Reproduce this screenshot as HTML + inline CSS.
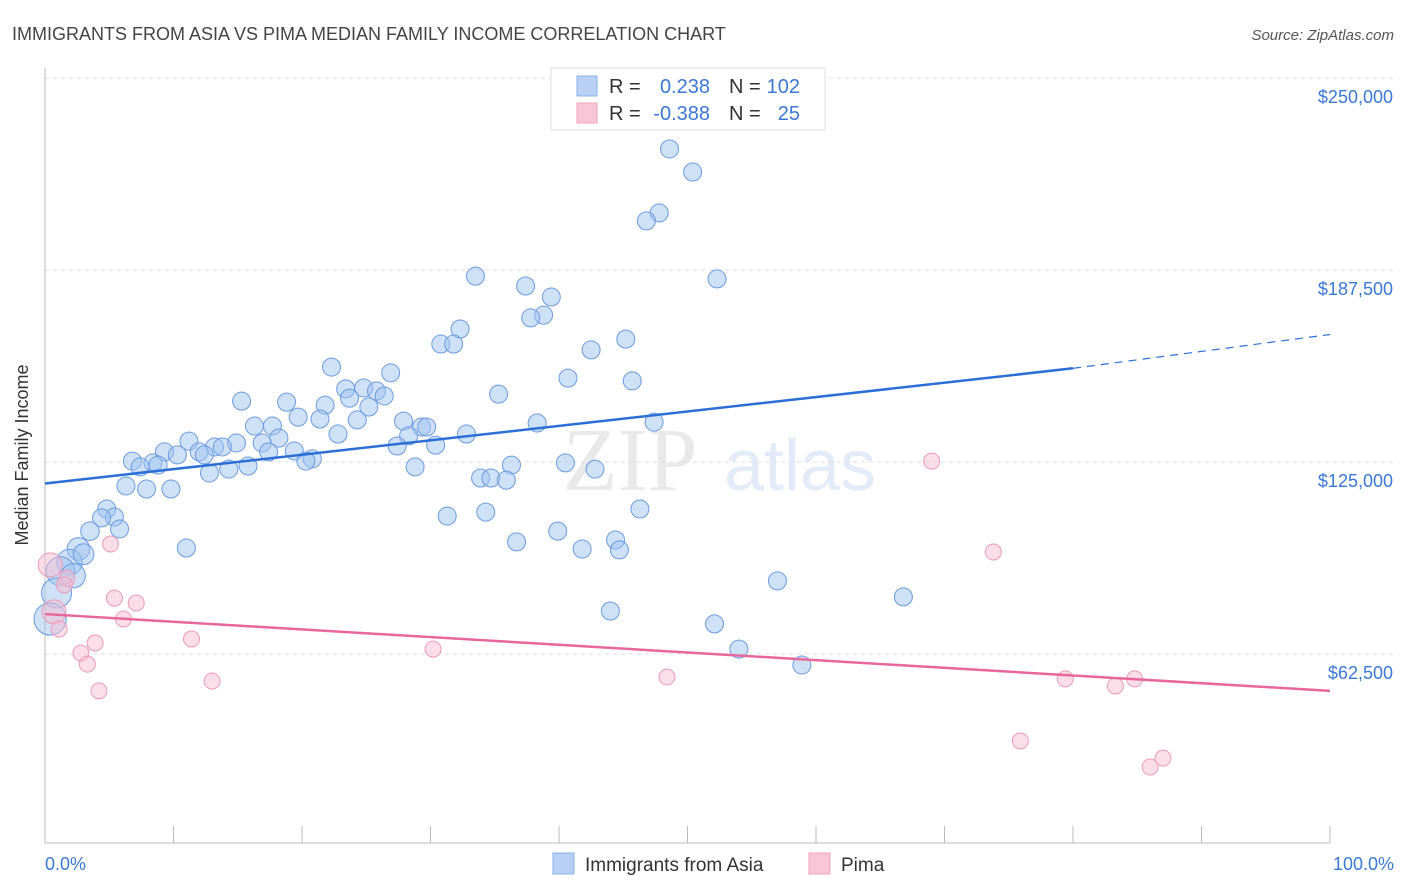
<!DOCTYPE html>
<html><head><meta charset="utf-8">
<style>
body{margin:0;background:#fff;font-family:"Liberation Sans",sans-serif;}
svg{display:block}
</style></head>
<body>
<svg id="chart" width="1406" height="892" xmlns="http://www.w3.org/2000/svg">
<text x="12" y="40" font-size="18" fill="#444">IMMIGRANTS FROM ASIA VS PIMA MEDIAN FAMILY INCOME CORRELATION CHART</text>
<text x="1394" y="40" font-size="15" fill="#555" font-style="italic" text-anchor="end">Source: ZipAtlas.com</text>
<g opacity="0.25">
<text x="630" y="490" font-size="90" font-family="Liberation Serif,serif" fill="#aaa" text-anchor="middle">ZIP</text>
<text x="800" y="490" font-size="72" fill="#8fb3e0" text-anchor="middle">atlas</text>
</g>
<g id="grid"></g>
<g id="axes"></g>
<g id="marks"></g>
<g>
<rect x="551" y="68" width="274" height="62" fill="#fff" stroke="#ddd"/>
<rect x="577" y="76" width="20" height="20" fill="#b8d0f3" stroke="#8bb0e6"/>
<rect x="577" y="103" width="20" height="20" fill="#f8c6d6" stroke="#efa3bd"/>
<text x="609" y="93" font-size="20" fill="#333">R =</text>
<text x="710" y="93" font-size="20" fill="#3a78d4" text-anchor="end">0.238</text>
<text x="729" y="93" font-size="20" fill="#333">N =</text>
<text x="800" y="93" font-size="20" fill="#3a78d4" text-anchor="end">102</text>
<text x="609" y="120" font-size="20" fill="#333">R =</text>
<text x="710" y="120" font-size="20" fill="#3a78d4" text-anchor="end">-0.388</text>
<text x="729" y="120" font-size="20" fill="#333">N =</text>
<text x="800" y="120" font-size="20" fill="#3a78d4" text-anchor="end">25</text>
</g>
<g>
<rect x="553" y="853" width="21" height="21" fill="#b8d0f3" stroke="#8bb0e6"/>
<text x="585" y="871" font-size="19" fill="#333">Immigrants from Asia</text>
<rect x="809" y="853" width="21" height="21" fill="#f8c6d6" stroke="#efa3bd"/>
<text x="841" y="871" font-size="19" fill="#333">Pima</text>
</g>
<text x="28" y="455" font-size="18" fill="#333" transform="rotate(-90 28 455)" text-anchor="middle">Median Family Income</text>
<text x="45" y="870" font-size="18" fill="#3a78d4" text-anchor="start">0.0%</text>
<text x="1394" y="870" font-size="18" fill="#3a78d4" text-anchor="end">100.0%</text>
</svg>
<script>
const yTicks=[62500,125000,187500,250000];
const yTickLabels=["$62,500","$125,000","$187,500","$250,000"];
const asiaX=[48.6,50.4,47.8,46.8,52.3,33.5,37.4,39.4,38.8,37.8,32.3,45.2,30.8,31.8,42.5,22.3,26.9,40.7,45.7,23.4,24.8,25.8,26.4,35.3,15.3,18.8,21.8,23.7,25.2,19.7,21.4,24.3,27.9,38.3,47.4,16.3,17.7,29.3,29.7,22.8,28.3,32.8,18.2,11.2,14.9,16.9,13.2,13.8,27.4,30.4,9.3,12.0,10.3,12.4,17.4,19.4,20.8,20.3,6.8,8.4,8.8,7.4,15.8,14.3,12.8,40.5,42.8,36.3,28.8,33.9,34.7,35.9,6.3,7.9,9.8,4.8,5.4,4.4,31.3,34.3,46.3,5.8,3.5,39.9,36.7,44.4,11.0,2.6,41.8,44.7,1.9,1.2,57.0,0.9,66.8,44.0,0.4,52.1,54.0,58.9,3.0,2.2];
const asiaY=[226.9,219.4,206.1,203.5,184.6,185.5,182.3,178.7,172.8,171.9,168.3,165.0,163.4,163.4,161.5,155.9,154.0,152.3,151.4,148.8,149.1,148.1,146.5,147.1,144.8,144.5,143.5,145.8,142.9,139.6,139.0,138.7,138.3,137.7,138.0,136.7,136.7,136.4,136.4,134.1,133.5,134.1,132.8,131.8,131.2,131.2,129.9,129.9,130.2,130.5,128.3,128.3,127.3,127.3,128.3,128.6,126.0,125.3,125.3,124.7,124.0,123.4,123.7,122.7,121.4,124.7,122.7,124.0,123.4,119.8,119.8,119.1,117.2,116.2,116.2,109.7,107.1,106.8,107.4,108.7,109.7,103.2,102.5,102.5,99.0,99.6,97.0,96.7,96.7,96.4,92.4,89.5,86.3,82.4,81.1,76.5,73.9,72.3,64.1,58.9,95.0,88.0];
const pimaX=[0.4,1.7,0.7,1.1,5.1,3.9,2.8,3.3,5.4,7.1,6.1,4.2,11.4,13.0,30.2,48.4,69.0,73.8,79.4,83.3,84.8,75.9,87.0,86.0,1.5];
const pimaY=[91.5,87.2,76.2,70.6,98.3,66.1,62.8,59.2,80.7,79.1,73.9,50.5,67.4,53.7,64.1,55.0,125.3,95.7,54.4,52.1,54.4,34.2,28.6,25.7,85.0];
const asiaTrend=[118.0,155.5,166.5]; // at 0%, 80%, 100%
const pimaTrend=[75.5,50.5];

const NS="http://www.w3.org/2000/svg";
const X=v=>45+v*12.85;
const Y=v=>654-(v*1000-62500)/62500*192;
function mk(tag,attrs,parent){const e=document.createElementNS(NS,tag);for(const k in attrs)e.setAttribute(k,attrs[k]);parent.appendChild(e);return e;}
const grid=document.getElementById('grid'),axes=document.getElementById('axes'),marks=document.getElementById('marks');
yTicks.forEach((t,i)=>{
  const y=Y(t/1000);
  const l=mk('line',{x1:45,x2:1394,y1:y,y2:y,stroke:'#ddd','stroke-dasharray':'4,4'},grid);
  
  
  const tx=mk('text',{x:1393,y:y+25,'font-size':18,fill:'#3a78d4','text-anchor':'end'},axes);
  tx.textContent=yTickLabels[i];
  
  
});
const ax=mk('line',{x1:45,x2:1330,y1:843,y2:843,stroke:'#bbb'},axes);


const ay=mk('line',{x1:45,x2:45,y1:68,y2:843,stroke:'#bbb'},axes);


for(let i=0;i<=10;i++){
  const t=mk('line',{x1:X(i*10),x2:X(i*10),y1:826,y2:843,stroke:'#bbb'},axes);
  
  
}
asiaX.forEach((x,i)=>{
  const r=Math.max(9,17-x*2.2);
  const c=mk('circle',{cx:X(x),cy:Y(asiaY[i]),r:r,fill:'rgba(160,195,240,0.5)',stroke:'#6a9be0','stroke-width':1},marks);
  
  
});
pimaX.forEach((x,i)=>{
  const r=x<1?12:8;
  const c=mk('circle',{cx:X(x),cy:Y(pimaY[i]),r:r,fill:'rgba(248,190,210,0.5)',stroke:'#ec9ab7','stroke-width':1},marks);
  
  
});
const l1=mk('line',{x1:X(0),y1:Y(asiaTrend[0]),x2:X(80),y2:Y(asiaTrend[1]),stroke:'#2b6fd6','stroke-width':2.5},marks);


const l2=mk('line',{x1:X(80),y1:Y(asiaTrend[1]),x2:X(100),y2:Y(asiaTrend[2]),stroke:'#2b6fd6','stroke-width':1.2,'stroke-dasharray':'8,6'},marks);


const l3=mk('line',{x1:X(0),y1:Y(pimaTrend[0]),x2:X(100),y2:Y(pimaTrend[1]),stroke:'#e8679a','stroke-width':2.5},marks);


</script>
</body></html>
